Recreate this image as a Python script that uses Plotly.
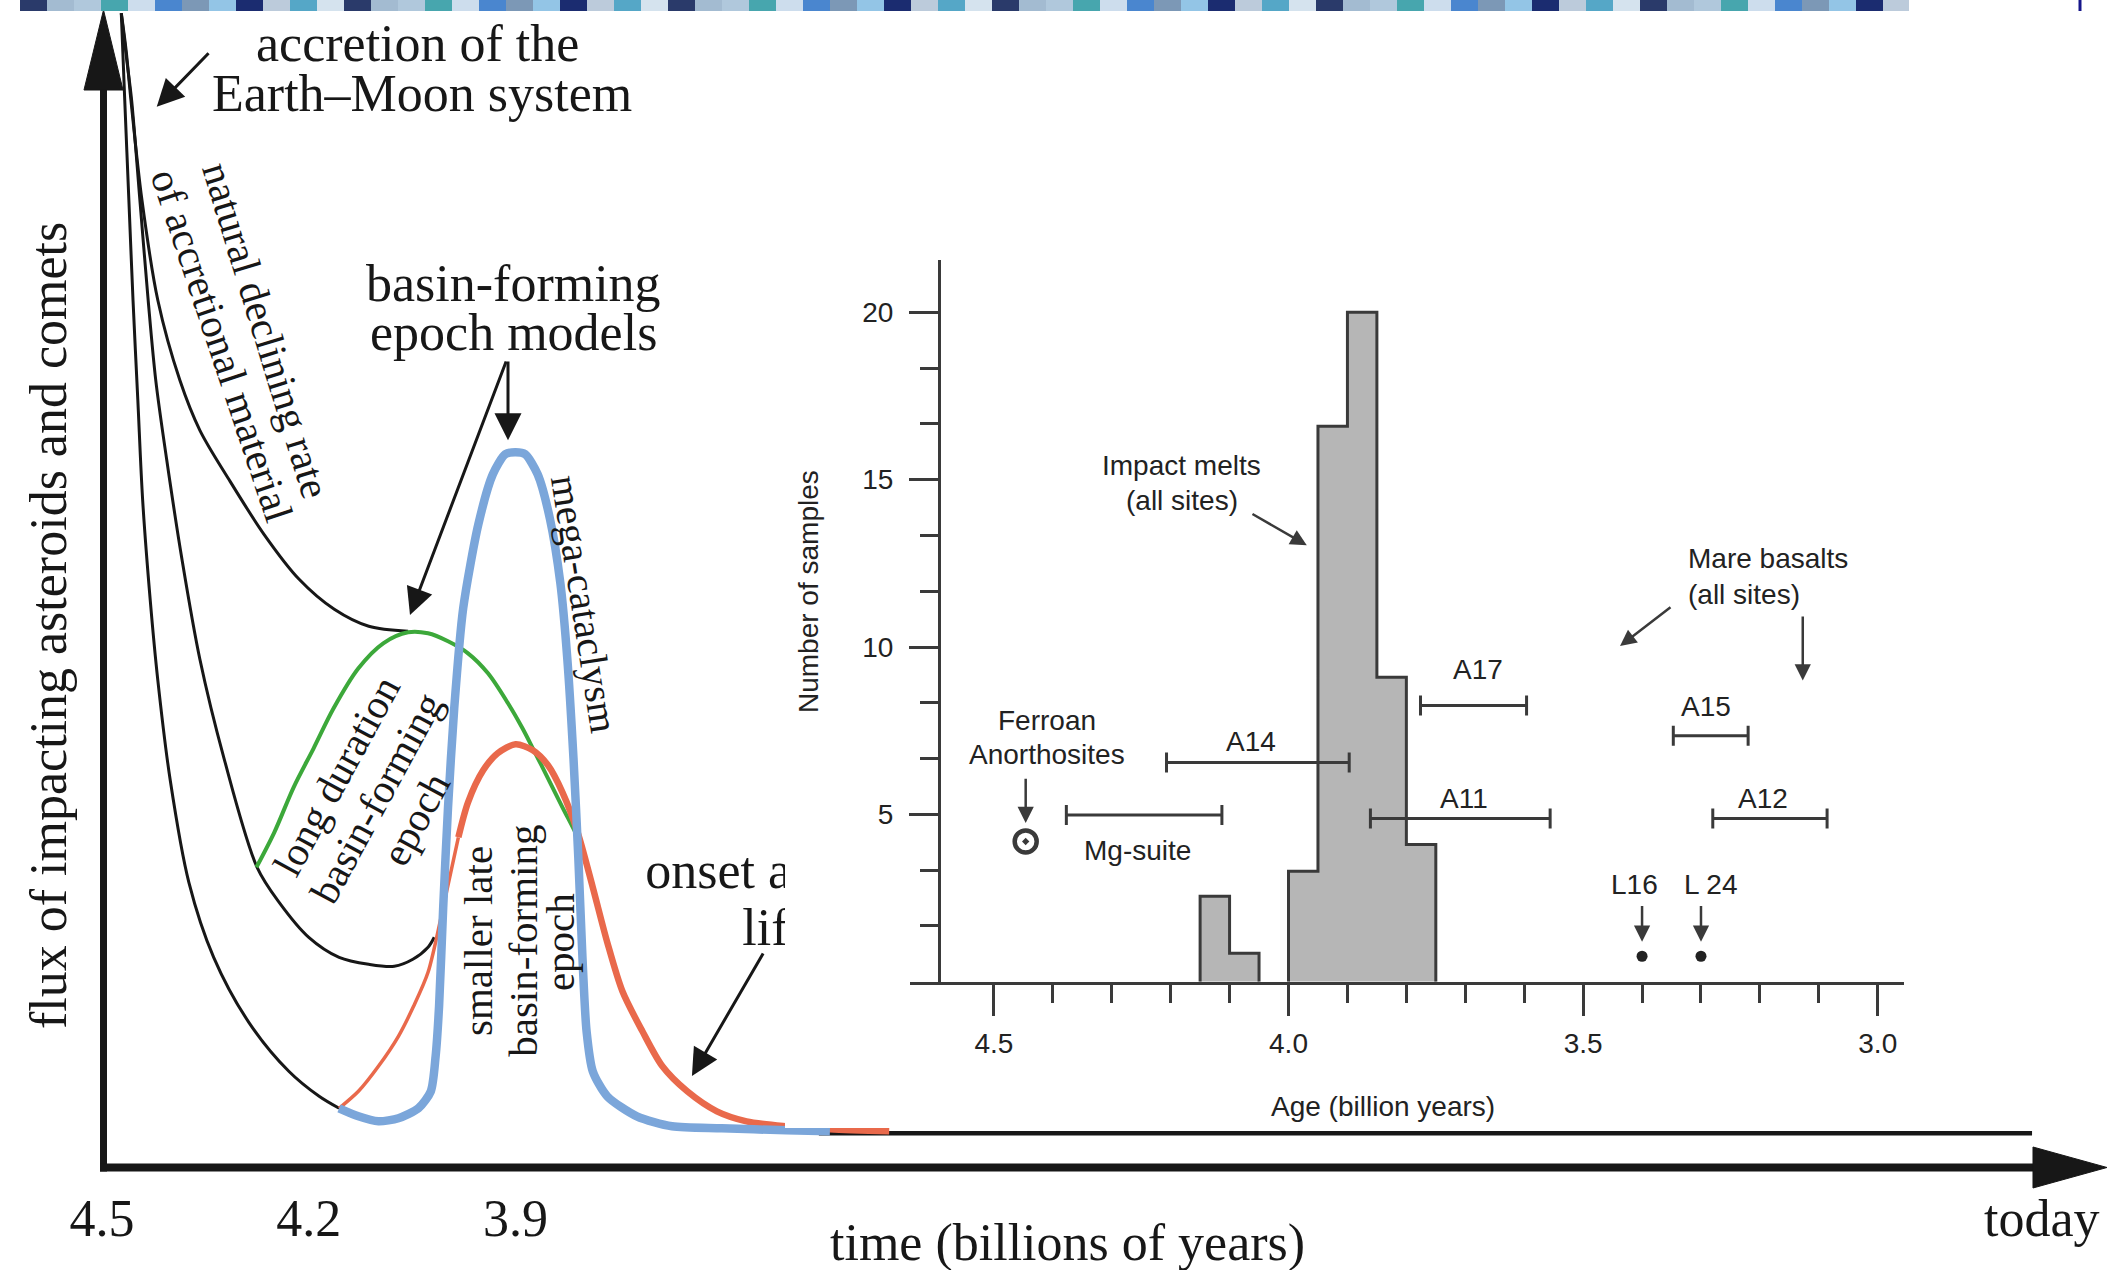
import plotly.graph_objects as go

W, H = 2111, 1270

SERIF = "Liberation Serif, Times New Roman, serif"
SANS = "Liberation Sans, Arial, Helvetica, sans-serif"
INK = "#171717"
AX = "#3a3a3a"

# ------------------------------------------------------------------
# Schematic impact flux (time in Gyr before present, flux in arbitrary units)
# ------------------------------------------------------------------
steep_decline_t = [4.472, 4.467, 4.461, 4.455, 4.448, 4.441, 4.430, 4.419, 4.401,
                   4.374, 4.338, 4.287, 4.229, 4.185, 4.156]
steep_decline_f = [11.20, 10.33, 9.33, 8.33, 7.33, 6.33, 5.33, 4.53, 3.53,
                   2.51, 1.76, 1.11, 0.62, 0.37, 0.25]

mid_decline_t = [4.472, 4.464, 4.457, 4.445, 4.433, 4.422, 4.406, 4.384, 4.358, 4.323,
                 4.275, 4.243, 4.200, 4.156, 4.113, 4.076, 4.049, 4.027, 4.018]
mid_decline_f = [11.20, 10.73, 10.33, 9.33, 8.33, 7.53, 6.73, 5.74, 4.74, 3.75,
                 2.66, 2.31, 1.96, 1.76, 1.69, 1.67, 1.74, 1.86, 1.96]

upper_decline_t = [4.472, 4.465, 4.458, 4.442, 4.419, 4.387, 4.358, 4.316, 4.265,
                   4.214, 4.163, 4.113, 4.056]
upper_decline_f = [11.20, 10.83, 10.33, 9.33, 8.33, 7.53, 7.03, 6.54, 5.99,
                   5.54, 5.24, 5.07, 5.02]

long_epoch_t = [4.276, 4.250, 4.222, 4.193, 4.164, 4.128, 4.092, 4.056, 4.027, 3.998,
                3.969, 3.940, 3.911, 3.890, 3.875, 3.853, 3.832, 3.810, 3.799]
long_epoch_f = [2.66, 3.01, 3.46, 3.85, 4.25, 4.65, 4.90, 5.01, 5.00, 4.92,
                4.80, 4.60, 4.30, 4.05, 3.85, 3.55, 3.26, 2.96, 2.76]

smaller_epoch_t = [4.156, 4.128, 4.099, 4.070, 4.048, 4.027, 4.005, 3.983, 3.969, 3.947,
                   3.926, 3.900, 3.875, 3.853, 3.832, 3.810, 3.788, 3.767, 3.745, 3.716,
                   3.687, 3.651, 3.608, 3.565, 3.507, 3.444, 3.358]
smaller_epoch_f = [0.25, 0.42, 0.67, 0.97, 1.27, 1.61, 2.26, 2.96, 3.31, 3.63,
                   3.80, 3.89, 3.83, 3.68, 3.41, 3.01, 2.46, 1.91, 1.42, 1.02,
                   0.67, 0.42, 0.22, 0.12, 0.07, 0.04, 0.02]

cataclysm_t = [4.156, 4.128, 4.099, 4.070, 4.041, 4.023, 4.016, 4.011, 4.005, 3.998,
               3.989, 3.976, 3.954, 3.933, 3.915, 3.900, 3.886, 3.868, 3.850, 3.835,
               3.825, 3.816, 3.809, 3.803, 3.797, 3.788, 3.767, 3.724, 3.673, 3.601,
               3.507, 3.444]
cataclysm_f = [0.25, 0.17, 0.12, 0.15, 0.25, 0.42, 0.77, 1.27, 2.26, 3.26,
               4.25, 5.25, 6.09, 6.59, 6.79, 6.81, 6.79, 6.59, 6.14, 5.50,
               4.75, 3.75, 2.76, 1.76, 1.02, 0.62, 0.37, 0.17, 0.07, 0.05,
               0.03, 0.02]

background_t = [3.46, 1.70]
background_f = [0.0, 0.0]

main_tick_vals = [4.5, 4.2, 3.9]
main_tick_text = ["4.5", "4.2", "3.9"]

# ------------------------------------------------------------------
# Inset: ages of lunar samples
# ------------------------------------------------------------------
older_bin_edges = [4.15, 4.10, 4.05]
older_counts = [2.55, 0.85]
melt_bin_edges = [4.00, 3.95, 3.90, 3.85, 3.80, 3.75]
melt_counts = [3.3, 16.6, 20.0, 9.1, 4.1]

suite_names = ["Mg-suite", "A14", "A11", "A17", "A15", "A12"]
suite_oldest = [4.377, 4.207, 3.861, 3.776, 3.347, 3.280]
suite_youngest = [4.113, 3.897, 3.556, 3.596, 3.220, 3.086]
suite_level = [4.98, 6.55, 4.88, 8.25, 7.35, 4.88]

ferroan_age = [4.446]
ferroan_level = [4.19]

luna_names = ["L16", "L 24"]
luna_ages = [3.40, 3.30]
luna_level = [0.76, 0.76]

age_tick_vals = [4.5, 4.0, 3.5, 3.0]
age_tick_text = ["4.5", "4.0", "3.5", "3.0"]
age_minor_vals = [4.4, 4.3, 4.2, 4.1, 3.9, 3.8, 3.7, 3.6, 3.4, 3.3, 3.2, 3.1]
count_tick_vals = [5, 10, 15, 20]
count_tick_text = ["5", "10", "15", "20"]
count_minor_vals = [1.667, 3.333, 6.667, 8.333, 11.667, 13.333, 16.667, 18.333]

# ------------------------------------------------------------------
# page geometry helpers (pixel -> paper fraction)
# ------------------------------------------------------------------
def fx(px):
    return px / W


def fy(py):
    return 1 - py / H


ORIGIN_PX, PX_PER_GYR = 102.0, 689.3
BASELINE_PX, PX_PER_FLUX = 1133.3, 100.0
time_range = [4.5 + ORIGIN_PX / PX_PER_GYR, 4.5 - (W - ORIGIN_PX) / PX_PER_GYR]
flux_range = [-(H - BASELINE_PX) / PX_PER_FLUX, BASELINE_PX / PX_PER_FLUX]

age_range = [4.643, 2.956]
count_range = [0, 21.57]

fig = go.Figure()


def curve(t, f, color, width, smoothing=0.9):
    fig.add_trace(go.Scatter(
        x=t, y=f, mode="lines", hoverinfo="skip", showlegend=False,
        line=dict(color=color, width=width, shape="spline", smoothing=smoothing),
        xaxis="x", yaxis="y"))


curve(steep_decline_t, steep_decline_f, INK, 3)
curve(mid_decline_t, mid_decline_f, INK, 3)
curve(upper_decline_t, upper_decline_f, INK, 3)
curve(background_t, background_f, INK, 4.5)
curve(long_epoch_t, long_epoch_f, "#3ca83a", 4)
# the smaller late epoch is drawn with a fine rising limb and a heavier crest and tail
RED = "#e9694b"
split = smaller_epoch_t.index(3.983)
curve(smaller_epoch_t[:split + 1], smaller_epoch_f[:split + 1], RED, 3.5, 0.8)
curve(smaller_epoch_t[split:], smaller_epoch_f[split:], RED, 6.5, 0.8)
curve(cataclysm_t, cataclysm_f, "#7ba6da", 8.5, 0.7)

# caption partly covered by the inset panel
fig.add_trace(go.Scatter(
    x=[3.712, 3.571], y=[2.583, 2.013], text=["onset and", "life"],
    mode="text", textposition="middle right", hoverinfo="skip", showlegend=False,
    textfont=dict(family=SERIF, size=52, color=INK), xaxis="x", yaxis="y"))

# white panel that holds the inset
fig.add_trace(go.Scatter(x=[0.5], y=[0.5], mode="markers", marker=dict(opacity=0),
                         hoverinfo="skip", showlegend=False, xaxis="x2", yaxis="y2"))


def step_outline(edges, counts):
    xs = [edges[0]] + edges[:-1] + [edges[-1]]
    ys = [0] + counts + [0]
    return xs, ys


for edges, counts in [(older_bin_edges, older_counts), (melt_bin_edges, melt_counts)]:
    sx, sy = step_outline(edges, counts)
    fig.add_trace(go.Scatter(
        x=sx, y=sy, mode="lines", fill="tozeroy", fillcolor="#b6b6b6",
        line=dict(color=AX, width=3, shape="hv"), hoverinfo="skip",
        showlegend=False, xaxis="x3", yaxis="y3"))

mid_ages = [(a + b) / 2 for a, b in zip(suite_oldest, suite_youngest)]
half_spans = [(a - b) / 2 for a, b in zip(suite_oldest, suite_youngest)]
fig.add_trace(go.Scatter(
    x=mid_ages, y=suite_level, mode="markers",
    marker=dict(size=1, color="rgba(0,0,0,0)"),
    error_x=dict(type="data", symmetric=True, array=half_spans,
                 color=AX, thickness=3, width=10),
    hoverinfo="skip", showlegend=False, xaxis="x3", yaxis="y3"))

fig.add_trace(go.Scatter(
    x=ferroan_age, y=ferroan_level, mode="markers",
    marker=dict(symbol="circle-open-dot", size=22, color=AX, line=dict(width=4.5, color=AX)),
    hoverinfo="skip", showlegend=False, xaxis="x3", yaxis="y3"))

fig.add_trace(go.Scatter(
    x=luna_ages, y=luna_level, mode="markers",
    marker=dict(symbol="circle", size=11, color="#222222"),
    hoverinfo="skip", showlegend=False, xaxis="x3", yaxis="y3"))

# ------------------------------------------------------------------
# annotations
# ------------------------------------------------------------------
ann = []


def text_at(text, px, py, size, angle=0, family=SERIF, xanchor="center", color=INK):
    ann.append(dict(text=text, x=fx(px), y=fy(py), xref="paper", yref="paper",
                    showarrow=False, textangle=angle, xanchor=xanchor, yanchor="middle",
                    font=dict(family=family, size=size, color=color)))


def data_text(text, x, y, size=28, xanchor="center"):
    ann.append(dict(text=text, x=x, y=y, xref="x3", yref="y3", showarrow=False,
                    xanchor=xanchor, yanchor="middle",
                    font=dict(family=SANS, size=size, color="#222222")))


def pointer(x0, y0, x1, y1, ref, width, size, color=INK):
    xr, yr = ref
    ann.append(dict(x=x1, y=y1, ax=x0, ay=y0, xref=xr, yref=yr, axref=xr, ayref=yr,
                    text="", showarrow=True, arrowhead=2, arrowsize=size,
                    arrowwidth=width, arrowcolor=color))


# main schematic labels
text_at("accretion of the", 417, 43, 52)
text_at("Earth\u2013Moon system", 422, 93, 52)
text_at("natural declining rate", 266, 330, 41, angle=73)
text_at("of accretional material", 222, 345, 41, angle=71.5)
text_at("basin-forming", 513.6, 283, 52)
text_at("epoch models", 513, 332, 52)
text_at("mega-cataclysm", 585, 604, 40, angle=81)
text_at("long duration", 336.5, 776.3, 41, angle=-61.5)
text_at("basin-forming", 376.1, 797.8, 41, angle=-61.5)
text_at("epoch", 415.7, 819.3, 41, angle=-61.5)
text_at("smaller late", 478, 941, 41, angle=-90)
text_at("basin-forming", 522.8, 941, 41, angle=-90)
text_at("epoch", 560.1, 942, 41, angle=-90)
text_at("flux of impacting asteroids and comets", 49, 626, 52, angle=-90)
text_at("time (billions of years)", 1067.6, 1243, 52)
text_at("today", 2042, 1218, 52)

main_ref = ("x", "y")
pointer(4.3433, 10.816, 4.4206, 10.266, main_ref, 3, 1.8)
pointer(3.911, 7.733, 3.911, 6.93, main_ref, 3, 1.8)
pointer(3.9129, 7.733, 4.0532, 5.183, main_ref, 3, 1.8)
pointer(3.5396, 1.813, 3.6441, 0.573, main_ref, 3, 1.8)

# inset labels
text_at("Number of samples", 808, 592, 28, angle=-90, family=SANS, color="#222222")
text_at("Age (billion years)", 1383, 1106, 28, family=SANS, color="#222222")
data_text("Impact melts", 4.181, 15.41)
data_text("(all sites)", 4.181, 14.39)
data_text("Ferroan", 4.409, 7.81)
data_text("Anorthosites", 4.409, 6.80)
data_text("A14", 4.064, 7.19)
data_text("Mg-suite", 4.256, 3.91)
data_text("A11", 3.703, 5.48)
data_text("A17", 3.678, 9.34)
data_text("A15", 3.292, 8.21)
data_text("A12", 3.194, 5.48)
luna_label_ages = [3.413, 3.284]
for name, age in zip(luna_names, luna_label_ages):
    data_text(name, age, 2.91)
data_text("Mare basalts", 3.326, 12.65, xanchor="left")
data_text("(all sites)", 3.326, 11.57, xanchor="left")

inset_ref = ("x3", "y3")
pointer(4.0637, 14.0, 3.969, 13.04, inset_ref, 2.5, 1.3, AX)
pointer(4.446, 6.11, 4.446, 4.74, inset_ref, 2.5, 1.3, AX)
pointer(3.3492, 11.22, 3.4374, 10.03, inset_ref, 2.5, 1.3, AX)
pointer(3.1273, 10.96, 3.1273, 9.0, inset_ref, 2.5, 1.3, AX)
for age, lvl in zip(luna_ages, luna_level):
    pointer(age, 2.31, age, lvl + 0.43, inset_ref, 2.5, 1.3, AX)

# ------------------------------------------------------------------
# shapes: main axes with arrow heads, top colour strip
# ------------------------------------------------------------------
shapes = []


def seg(x0, y0, x1, y1, width, color=INK):
    shapes.append(dict(type="line", xref="paper", yref="paper",
                       x0=fx(x0), y0=fy(y0), x1=fx(x1), y1=fy(y1),
                       line=dict(color=color, width=width), layer="above"))


def tri(points, color=INK):
    path = "M " + " L ".join(f"{fx(a):.5f},{fy(b):.5f}" for a, b in points) + " Z"
    shapes.append(dict(type="path", xref="paper", yref="paper", path=path,
                       fillcolor=color, line=dict(color=color, width=1), layer="above"))


seg(103.5, 88, 103.5, 1171.5, 7)
tri([(84, 90), (123, 90), (103.5, 10)])
seg(100, 1167.5, 2036, 1167.5, 8)
tri([(2033, 1147), (2033, 1188), (2107, 1167.5)])

strip_colors = ["#2a3a6a", "#a3bbd1", "#b0c8dc", "#47a6ae", "#cddded", "#4a86cf",
                "#7c98b6", "#93c5e6", "#1b2c70", "#bccbdb", "#55a7c7", "#d5e3ee"]
block = 27
x = 20
k = 0
while x < 1909:
    shapes.append(dict(type="rect", xref="paper", yref="paper",
                       x0=fx(x), x1=fx(min(x + block, 1909)), y0=fy(11), y1=fy(0),
                       fillcolor=strip_colors[k % len(strip_colors)], line=dict(width=0),
                       layer="above"))
    x += block
    k += 1
seg(2080, 0, 2080, 11, 3, "#16168a")

axis_common = dict(showgrid=False, zeroline=False)

fig.update_layout(
    width=W, height=H, margin=dict(l=0, r=0, t=0, b=0),
    paper_bgcolor="white", plot_bgcolor="white", showlegend=False,
    xaxis=dict(domain=[0, 1], range=time_range, anchor="free", position=fy(1167.5),
               showline=False, ticks="", tickvals=main_tick_vals, ticktext=main_tick_text,
               tickfont=dict(family=SERIF, size=52, color=INK), ticklabelstandoff=15,
               **axis_common),
    yaxis=dict(domain=[0, 1], range=flux_range, visible=False),
    xaxis2=dict(domain=[fx(785), 1], range=[0, 1], visible=False, anchor="y2"),
    yaxis2=dict(domain=[fy(1128), fy(12)], range=[0, 1], visible=False, anchor="x2"),
    xaxis3=dict(domain=[fx(909.6), fx(1903.7)], range=age_range, anchor="y3",
                showline=True, linecolor=AX, linewidth=3,
                ticks="outside", ticklen=31, tickwidth=3, tickcolor=AX,
                tickvals=age_tick_vals, ticktext=age_tick_text,
                minor=dict(tickvals=age_minor_vals, ticks="outside", ticklen=18,
                           tickwidth=3, tickcolor=AX),
                tickfont=dict(family=SANS, size=28, color="#222222"),
                ticklabelstandoff=4, **axis_common),
    yaxis3=dict(domain=[fy(981.7), fy(259.8)], range=count_range, anchor="free",
                position=fx(939), showline=True, linecolor=AX, linewidth=3,
                ticks="outside", ticklen=29, tickwidth=3, tickcolor=AX,
                tickvals=count_tick_vals, ticktext=count_tick_text,
                minor=dict(tickvals=count_minor_vals, ticks="outside", ticklen=18,
                           tickwidth=3, tickcolor=AX),
                tickfont=dict(family=SANS, size=28, color="#222222"),
                ticklabelstandoff=10, **axis_common),
    annotations=ann, shapes=shapes,
)

fig.write_html("out.html")
